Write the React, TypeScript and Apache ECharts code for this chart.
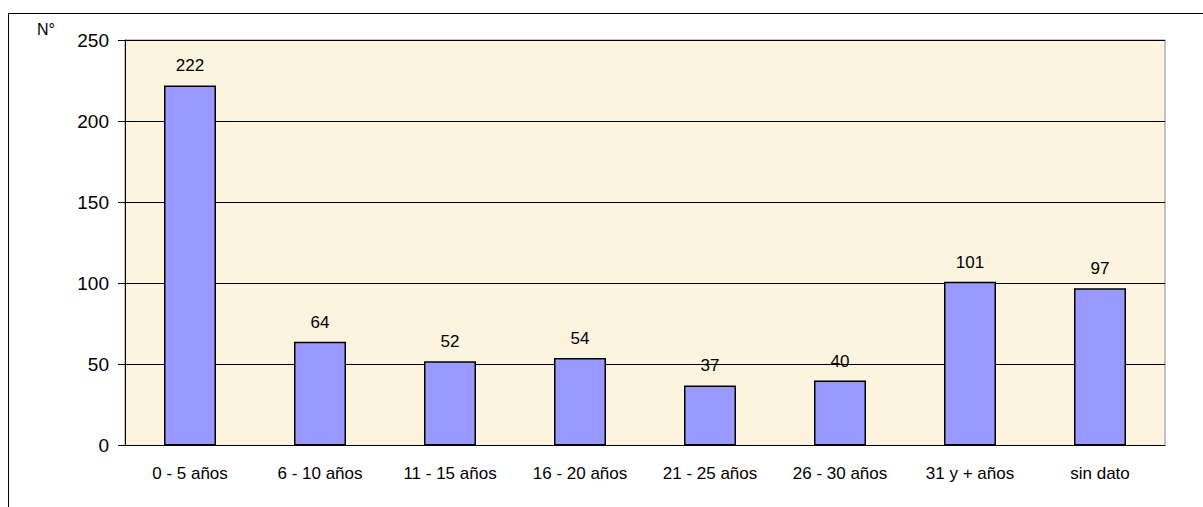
import React, { useEffect, useRef } from "react";
import * as echarts from "echarts";

const categories = [
  "0 - 5 años",
  "6 - 10 años",
  "11 - 15 años",
  "16 - 20 años",
  "21 - 25 años",
  "26 - 30 años",
  "31 y + años",
  "sin dato",
];
const values = [222, 64, 52, 54, 37, 40, 101, 97];
const yMin = 0;
const yMax = 250;
const yInterval = 50;
const yAxisName = "N°";

const FONT = "'Liberation Sans', Arial, sans-serif";

export default function App() {
  const ref = useRef<HTMLDivElement>(null);
  useEffect(() => {
    document.body.style.margin = "0";
    const chart = echarts.init(ref.current!, null, { renderer: "svg" });
    chart.setOption({
      animation: false,
      backgroundColor: "#ffffff",
      textStyle: { fontFamily: FONT },
      grid: {
        left: 125,
        top: 40,
        width: 1040,
        height: 405.5,
        show: true,
        backgroundColor: "#FDF4DF",
        borderColor: "#8a8a8a",
        borderWidth: 1,
      },
      xAxis: {
        type: "category",
        data: categories,
        axisLine: { lineStyle: { color: "#000", width: 1 } },
        axisTick: { length: 7, lineStyle: { color: "#000" } },
        axisLabel: {
          color: "#000",
          fontSize: 17,
          fontFamily: FONT,
          margin: 19,
          lineHeight: 18,
        },
      },
      yAxis: {
        type: "value",
        min: yMin,
        max: yMax,
        interval: yInterval,
        axisLine: { show: true, lineStyle: { color: "#000", width: 1 } },
        axisTick: { show: true, length: 7, lineStyle: { color: "#000" } },
        splitLine: { show: true, lineStyle: { color: "#000", width: 1 } },
        axisLabel: {
          color: "#000",
          fontSize: 19,
          fontFamily: FONT,
          margin: 16,
        },
      },
      series: [
        {
          type: "bar",
          data: values,
          barWidth: "40%",
          itemStyle: {
            color: "#9999FF",
            borderColor: "#000",
            borderWidth: 1.5,
          },
          label: {
            show: true,
            position: "top",
            distance: 11,
            color: "#000",
            fontSize: 17,
            fontFamily: FONT,
          },
        },
      ],
      graphic: [
        {
          type: "rect",
          shape: { x: 8.5, y: 13.5, width: 1400, height: 700 },
          style: { fill: "none", stroke: "#000", lineWidth: 1 },
          silent: true,
        },
        {
          type: "text",
          x: 37,
          y: 21,
          style: {
            text: yAxisName,
            fontSize: 16,
            fontFamily: FONT,
            fill: "#000",
          },
        },
      ],
    });
    return () => chart.dispose();
  }, []);
  return <div ref={ref} style={{ width: 1203, height: 507 }} />;
}
